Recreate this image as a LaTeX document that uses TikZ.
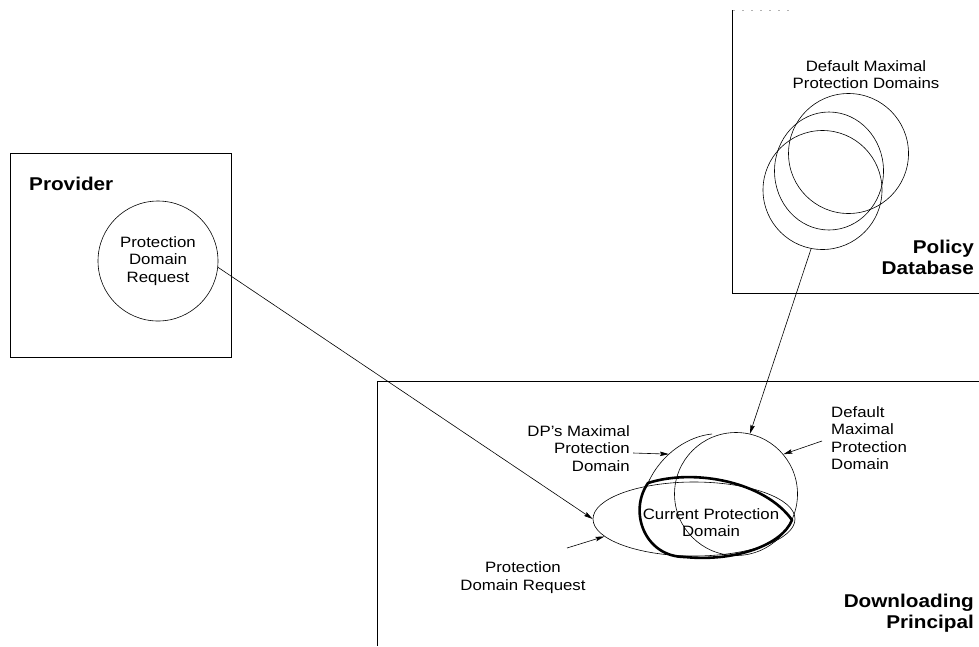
\documentclass[tikz,border=0pt]{standalone}
\usepackage{fontspec}
\setmainfont{Liberation Sans}[FakeStretch=1.12]
\usetikzlibrary{arrows.meta,shapes.geometric}

\begin{document}
\begin{tikzpicture}[x=1pt,y=-1pt,
  frame/.style={line width=0.8pt},
  outline/.style={line width=0.6pt},
  current/.style={line width=2.6pt},
  pointer/.style={line width=0.6pt,-{Stealth[length=9pt,width=4.5pt,inset=1.5pt]}},
  lbl/.style={font=\fontsize{15}{17.5}\selectfont,inner sep=0pt},
  ttl/.style={font=\fontsize{18.5}{21.5}\selectfont\bfseries,inner sep=0pt}]
\useasboundingbox (0,0) rectangle (979,646);

% ---------- enclosing boxes ----------
\draw[frame] (10,153) rectangle (231,357);
\draw[frame] (732,10) -- (732,293) -- (979,293);
\draw[black!30,line width=0.6pt,dash pattern=on 2pt off 7pt] (733,10) -- (790,10);
\draw[frame] (979,381) -- (377,381) -- (377,646);

% ---------- titles ----------
\node[ttl,anchor=west] (provT) at (29,183.5) {Provider};
\node[ttl,align=right,anchor=east] (polT) at (974,257.5) {Policy\\Database};
\node[ttl,align=right,anchor=east] (dpT) at (974,613) {Downloading\\Principal};

% ---------- provider ----------
\node[circle,draw,outline,minimum size=120pt,lbl,align=center] (pdr) at (158,261)
  {Protection\\Domain\\Request};

% ---------- policy database ----------
\node[lbl,align=center] (dmdT) at (866,74.5) {Default Maximal\\Protection Domains};
\node[circle,draw,outline,minimum size=120pt,inner sep=0pt] (pa) at (848.5,153.5) {};
\node[ellipse,draw,outline,minimum width=109pt,minimum height=118pt,inner sep=0pt] (pb) at (829,171) {};
\node[circle,draw,outline,minimum size=119pt,inner sep=0pt] (pc) at (822.5,190) {};

% ---------- downloading principal ----------
\node[ellipse,draw,outline,minimum width=202pt,minimum height=74pt,inner sep=0pt] (req) at (694,519) {};
\node[circle,draw,outline,minimum size=123pt,inner sep=0pt] (dmax) at (736,494) {};
% DP's maximal protection domain (visible upper-left arc)
\coordinate (dpA) at (712,434);
\coordinate (dpB) at (648,483);
\draw[outline] (dpA) .. controls (690,436) and (662,452) .. (dpB) coordinate[pos=0.62] (dpHit);
% current protection domain
\draw[current,line join=round] (dpB) .. controls (695,468) and (765,482) .. (792,520)
  .. controls (782,545) and (735,562) .. (685,557)
  .. controls (645,557) and (628,512) .. (dpB) -- cycle;
\node[lbl,align=center] (cur) at (711,522.5) {Current Protection\\Domain};

% ---------- labels ----------
\node[lbl,align=right,anchor=east] (dpL) at (630,448.5) {DP's Maximal\\Protection\\Domain};
\node[lbl,align=left,anchor=west] (dmL) at (831,438) {Default\\Maximal\\Protection\\Domain};
\node[lbl,align=center] (rqL) at (523,577.5) {Protection\\Domain Request};

\coordinate (dpS) at (633,453);
\coordinate (dmS) at (822,441);
\coordinate (rqS) at (567,548);

% ---------- connectors ----------
\draw[pointer] (pdr.-6) -- (req.west);
\draw[pointer] (pc.-101) -- (dmax.77);
\draw[pointer] (dpS) -- (dpHit);
\draw[pointer] (dmS) -- (dmax.40);
\draw[pointer] (rqS) -- (req.191);
\end{tikzpicture}
\end{document}
